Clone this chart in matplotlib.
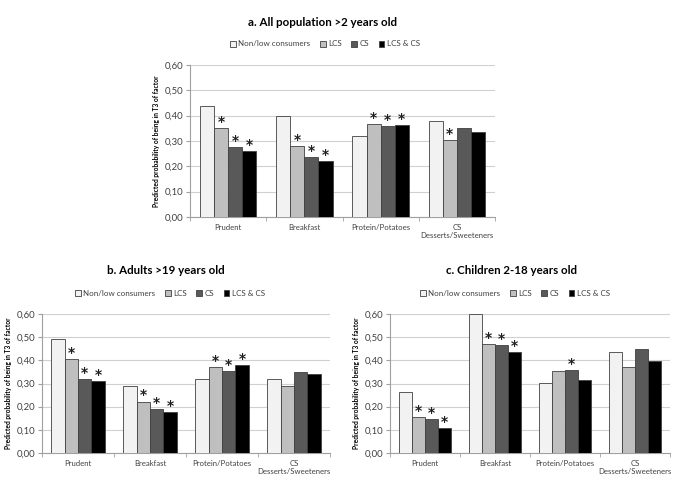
import numpy as np
import matplotlib
matplotlib.use("Agg")
from matplotlib import pyplot as plt

plt.rcParams['font.family'] = ['Lato', 'DejaVu Sans']

categories = ["Prudent", "Breakfast", "Protein/Potatoes", "CS\nDesserts/Sweeteners"]
series_names = ["Non/low consumers", "LCS", "CS", "LCS & CS"]
colors = ["#f2f2f2", "#bfbfbf", "#595959", "#000000"]
yticks = [0.0, 0.1, 0.2, 0.3, 0.4, 0.5, 0.6]

# a. all population
all_vals = [
    [0.44, 0.40, 0.318, 0.378],   # Non/low
    [0.35, 0.28, 0.368, 0.303],   # LCS
    [0.275, 0.235, 0.358, 0.352], # CS
    [0.26, 0.22, 0.365, 0.336],   # LCS & CS
]
all_stars = [
    [False, False, False, False],
    [True, True, True, True],
    [True, True, True, False],
    [True, True, True, False],
]

# b. adults
adult_vals = [
    [0.49, 0.288, 0.32, 0.32],
    [0.405, 0.222, 0.372, 0.29],
    [0.32, 0.19, 0.355, 0.35],
    [0.31, 0.175, 0.38, 0.34],
]
adult_stars = [
    [False, False, False, False],
    [True, True, True, False],
    [True, True, True, False],
    [True, True, True, False],
]

# c. children
child_vals = [
    [0.262, 0.598, 0.302, 0.435],
    [0.155, 0.47, 0.353, 0.372],
    [0.145, 0.465, 0.36, 0.45],
    [0.108, 0.437, 0.315, 0.398],
]
child_stars = [
    [False, False, False, False],
    [True, True, False, False],
    [True, True, True, False],
    [True, True, False, False],
]


def draw_panel(fig, rect, title, title_xy, legend_xy, vals, stars):
    ax = fig.add_axes(rect)
    x = np.arange(len(categories))
    w = 0.185
    for i in range(4):
        off = (i - 1.5) * w
        ax.bar(x + off, vals[i], w, color=colors[i], edgecolor="#404040",
               linewidth=0.6, label=series_names[i], zorder=3)
        for j in range(len(categories)):
            if stars[i][j]:
                ax.text(x[j] + off, vals[i][j] - 0.004, "*", ha="center",
                        va="bottom", fontsize=10, fontweight="bold",
                        family="DejaVu Sans", color="#202020", zorder=4)
    ax.set_xlim(-0.5, 3.5)
    ax.set_ylim(0, 0.6)
    ax.set_yticks(yticks)
    ax.set_yticklabels([f"{v:.2f}".replace(".", ",") for v in yticks],
                       fontsize=6.8, color="#404040")
    ax.set_xticks(x)
    ax.set_xticklabels(categories, fontsize=5.6, color="#404040")
    ax.set_xticks(np.arange(-0.5, 4.0, 1.0), minor=True)
    ax.tick_params(axis="x", which="major", length=0, pad=5)
    ax.tick_params(axis="x", which="minor", length=3, color="#a0a0a0")
    ax.tick_params(axis="y", length=3, color="#a0a0a0", pad=2)
    ax.grid(axis="y", color="#d0d0d0", linewidth=0.8, zorder=0)
    for s in ["top", "right"]:
        ax.spines[s].set_visible(False)
    for s in ["left", "bottom"]:
        ax.spines[s].set_color("#a0a0a0")
        ax.spines[s].set_linewidth(0.8)
    ax.set_ylabel("Predicted probability of being in T3 of factor",
                  fontsize=4.8, fontweight="bold", labelpad=3)
    fig.text(title_xy[0] / 675, 1 - title_xy[1] / 487, title, ha="center",
             va="center", fontsize=8.3, fontweight="bold")
    ax.legend(loc="center", bbox_to_anchor=(legend_xy[0] / 675, 1 - legend_xy[1] / 487),
              bbox_transform=fig.transFigure, ncol=4, frameon=False,
              fontsize=5.8, handlelength=0.7, handleheight=0.7,
              handletextpad=0.3, columnspacing=1.2, labelcolor="#404040")
    return ax


fig = plt.figure(figsize=(6.75, 4.87), dpi=100)

draw_panel(fig, [190 / 675, 1 - 217 / 487, 305 / 675, 152 / 487],
           "a. All population >2 years old", (323, 22), (325, 44),
           all_vals, all_stars)
draw_panel(fig, [42 / 675, 1 - 453 / 487, 288 / 675, 139 / 487],
           "b. Adults >19 years old", (166, 271), (170, 293),
           adult_vals, adult_stars)
draw_panel(fig, [390 / 675, 1 - 453 / 487, 280 / 675, 139 / 487],
           "c. Children 2-18 years old", (512, 271), (515, 293),
           child_vals, child_stars)

fig.savefig("out.png", dpi=100)
